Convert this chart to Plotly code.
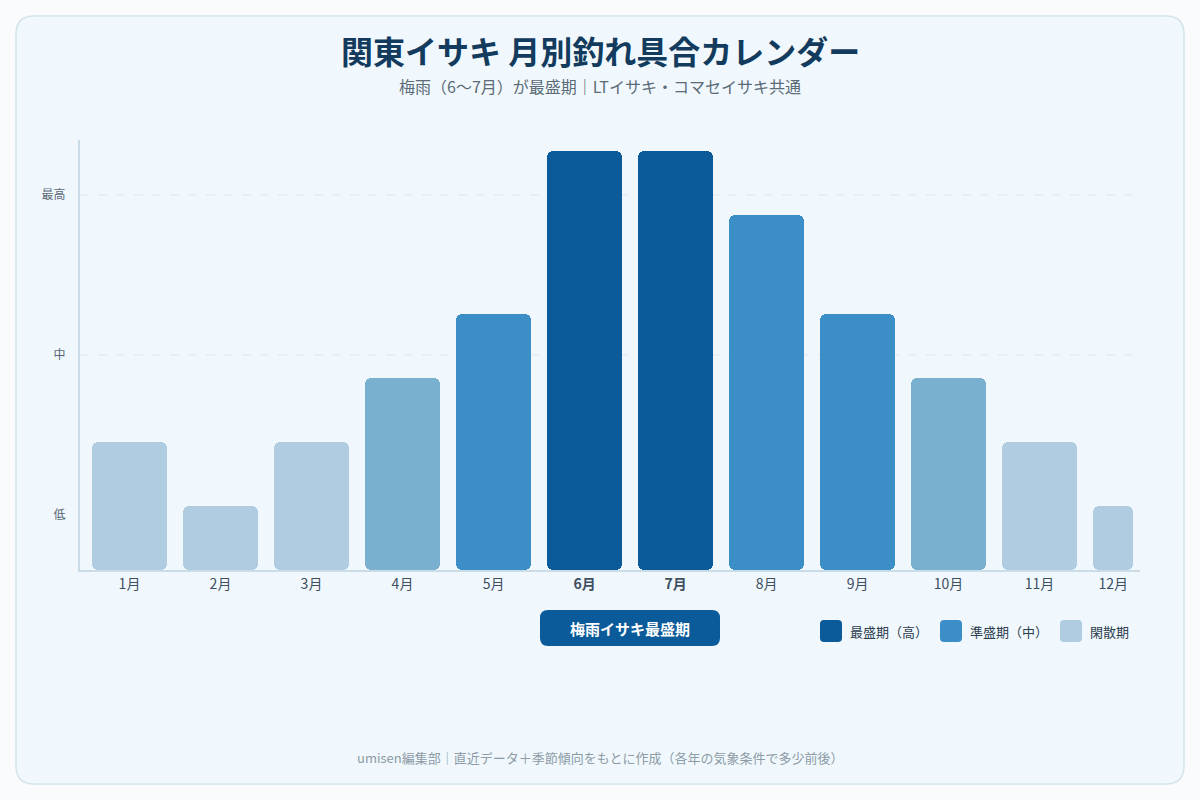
import plotly.graph_objects as go

# ---------------- data ----------------
months = ["1月", "2月", "3月", "4月", "5月", "6月", "7月", "8月", "9月", "10月", "11月", "12月"]
score = [2.0, 1.0, 2.0, 3.0, 4.0, 6.55, 6.55, 5.55, 4.0, 3.0, 2.0, 1.0]
level = ["low", "low", "low", "midlow", "mid", "high", "high", "mid", "mid", "midlow", "low", "low"]
ytick_vals = [0.86, 3.36, 5.86]
ytick_text = ["低", "中", "最高"]
legend_names = ["最盛期（高）", "準盛期（中）", "閑散期"]

# ---------------- style ----------------
FONT = "Noto Sans CJK JP"
COLORS = {"high": "#0b5a99", "mid": "#3b8fc6", "midlow": "#7ab0cf", "low": "#b0cce0"}
LEGEND_COLORS = ["#0b5a99", "#3b8fc6", "#b0cce0"]
W, H = 1200, 800
ML, MR, MT, MB = 80, 60, 140, 230
PW, PH = W - ML - MR, H - MT - MB

def px(x):
    return (x - ML) / PW

def py(y):
    return (H - MB - y) / PH

def rrect(x0, y0, x1, y1, r):
    """rounded rect in pixel coords -> paper path"""
    def P(x, y):
        return f"{px(x):.5f},{py(y):.5f}"
    return (f"M{P(x0 + r, y0)} L{P(x1 - r, y0)} Q{P(x1, y0)} {P(x1, y0 + r)} "
            f"L{P(x1, y1 - r)} Q{P(x1, y1)} {P(x1 - r, y1)} L{P(x0 + r, y1)} "
            f"Q{P(x0, y1)} {P(x0, y1 - r)} L{P(x0, y0 + r)} Q{P(x0, y0)} {P(x0 + r, y0)} Z")

x_idx = list(range(len(months)))
widths = [0.824] * 11 + [0.44]
offsets = [-0.412] * 12
bar_colors = [COLORS[l] for l in level]

fig = go.Figure()
# upper part: from 25% to top (rounded top)
fig.add_trace(go.Bar(x=x_idx, y=[v * 0.75 for v in score], base=[v * 0.25 for v in score],
                     width=widths, offset=offsets,
                     marker=dict(color=bar_colors, cornerradius=6, line=dict(width=0)),
                     showlegend=False, hoverinfo="skip"))
# lower part: from 75% down to the axis (rounded bottom)
fig.add_trace(go.Bar(x=x_idx, y=[-v * 0.75 for v in score], base=[v * 0.75 for v in score],
                     width=widths, offset=offsets,
                     marker=dict(color=bar_colors, cornerradius=6, line=dict(width=0)),
                     showlegend=False, hoverinfo="skip"))

shapes = []
# card
shapes.append(dict(type="path", xref="paper", yref="paper", layer="below",
                   path=rrect(16, 16, 1184, 784, 18),
                   fillcolor="#f0f8fd", line=dict(color="#d3e3ec", width=1.5)))
# gridlines (中, 最高)
for v in ytick_vals[1:]:
    shapes.append(dict(type="line", xref="paper", yref="y", x0=0, x1=1, y0=v, y1=v,
                       layer="below", line=dict(color="#dde9f1", width=1, dash="dash")))
# badge
shapes.append(dict(type="path", xref="paper", yref="paper",
                   path=rrect(540, 610, 720, 646, 8), fillcolor="#0b5a99", line=dict(width=0)))
# legend squares
leg_x = [820, 940, 1060]
for lx, c in zip(leg_x, LEGEND_COLORS):
    shapes.append(dict(type="path", xref="paper", yref="paper",
                       path=rrect(lx, 620, lx + 22, 642, 4), fillcolor=c, line=dict(width=0)))

annotations = [
    dict(text="<b>関東イサキ 月別釣れ具合カレンダー</b>", x=px(600), y=py(50), xref="paper", yref="paper",
         showarrow=False, font=dict(family=FONT, size=32, color="#123b5d"), xanchor="center", yanchor="middle"),
    dict(text="梅雨（6〜7月）が最盛期｜LTイサキ・コマセイサキ共通", x=px(600), y=py(86), xref="paper", yref="paper",
         showarrow=False, font=dict(family=FONT, size=16, color="#5b6b78"), xanchor="center", yanchor="middle"),
    dict(text="umisen編集部｜直近データ＋季節傾向をもとに作成（各年の気象条件で多少前後）", x=px(600), y=py(757),
         xref="paper", yref="paper", showarrow=False,
         font=dict(family=FONT, size=13, color="#8d9ba6"), xanchor="center", yanchor="middle"),
    dict(text="<b>梅雨イサキ最盛期</b>", x=px(630), y=py(628), xref="paper", yref="paper",
         showarrow=False, font=dict(family=FONT, size=15, color="#ffffff"), xanchor="center", yanchor="middle"),
]
for lx, name in zip(leg_x, legend_names):
    annotations.append(dict(text=name, x=px(lx + 28), y=py(631), xref="paper", yref="paper",
                            showarrow=False, font=dict(family=FONT, size=13, color="#2d3e4e"),
                            xanchor="left", yanchor="middle"))

xtick_vals = x_idx[:11] + [11 - 0.19]
xtick_text = [f"<b>{m}</b>" if l == "high" else m for m, l in zip(months, level)]

fig.update_layout(
    width=W, height=H,
    margin=dict(l=ML, r=MR, t=MT, b=MB),
    paper_bgcolor="#f9fbfd", plot_bgcolor="rgba(0,0,0,0)",
    barmode="overlay", bargap=0,
    font=dict(family=FONT, color="#3d4f60"),
    shapes=shapes, annotations=annotations,
    xaxis=dict(range=[-0.544, 11.104], tickvals=xtick_vals, ticktext=xtick_text,
               showgrid=False, zeroline=False, showline=True, linecolor="#c9dce8", linewidth=2,
               ticks="", tickfont=dict(family=FONT, size=14, color="#3d4f60"), fixedrange=True),
    yaxis=dict(range=[0, PH / 64], tickvals=ytick_vals, ticktext=ytick_text,
               showgrid=False, zeroline=False, showline=True, linecolor="#c9dce8", linewidth=2,
               ticks="", ticklabelstandoff=10, tickfont=dict(family=FONT, size=12, color="#5a6875"),
               fixedrange=True),
)

fig.write_html("out.html")
